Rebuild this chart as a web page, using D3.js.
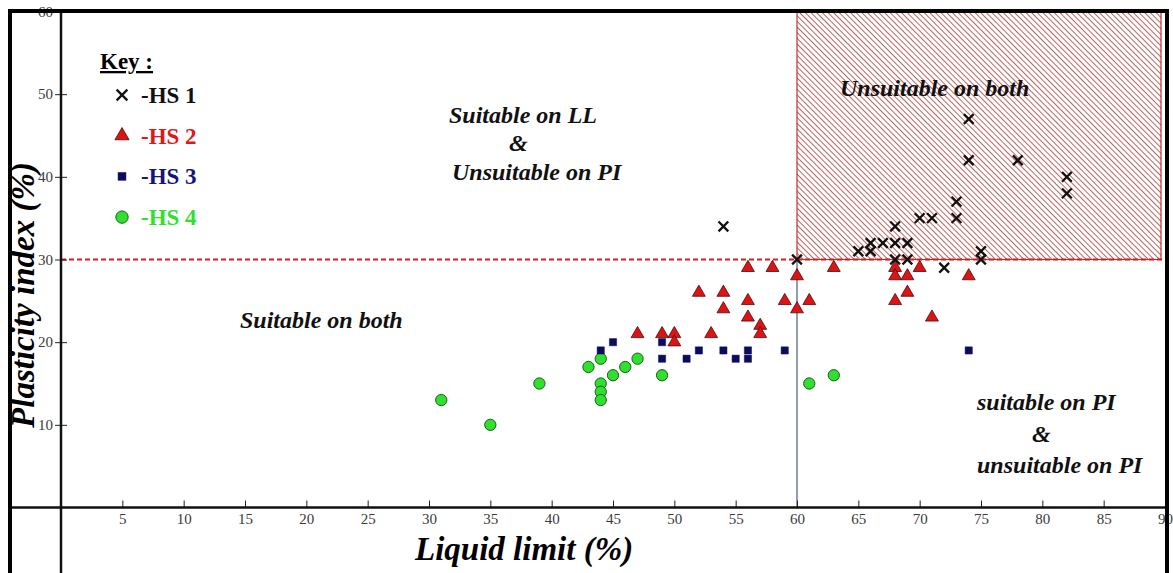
<!DOCTYPE html>
<html>
<head>
<meta charset="utf-8">
<script src="https://cdn.jsdelivr.net/npm/d3@7"></script>
<style>
  body { margin: 0; background: #fff; }
  svg { display: block; }
  .tick text { font-family: "Liberation Serif", serif; font-size: 15px; fill: #3a3a3a; }
  .nota { font-family: "Liberation Serif", serif; font-weight: bold; font-style: italic; font-size: 24px; fill: #111; }
</style>
</head>
<body>
<div id="graf"></div>
<script>
// Datos: [Liquid limit, Plasticity index] por grupo
const hs1 = [[54,34],[60,30],[65,31],[66,32],[66,31],[67,32],[68,34],[68,32],[68,30],[69,32],[69,30],
             [70,35],[71,35],[72,29],[73,37],[73,35],[74,47],[74,42],[75,31],[75,30],[78,42],[82,40],[82,38]]
const hs2 = [[47,21],[49,21],[50,21],[50,20],[52,26],[53,21],[54,26],[54,24],[56,29],[56,25],[56,23],
             [57,22],[57,21],[58,29],[59,25],[60,28],[60,24],[61,25],[63,29],[68,29],[68,28],[68,25],
             [69,28],[69,26],[70,29],[71,23],[74,28]]
const hs3 = [[44,19],[45,20],[49,20],[49,18],[51,18],[52,19],[54,19],[55,18],[56,19],[56,18],[59,19],[74,19]]
const hs4 = [[31,13],[35,10],[39,15],[43,17],[44,18],[44,15],[44,14],[44,13],[45,16],[46,17],[47,18],
             [49,16],[61,15],[63,16]]

const ticksX = [5,10,15,20,25,30,35,40,45,50,55,60,65,70,75,80,85,90]
const ticksY = [10,20,30,40,50,60]
const limiteLL = 60
const limitePI = 30

// Tamano total
ancho_total = 1173
alto_total = 573

svg = d3.select('#graf').append('svg')
        .attr('width', ancho_total)
        .attr('height', alto_total)

// Escalas
x = d3.scaleLinear().domain([0, 90]).range([61, 1165])
y = d3.scaleLinear().domain([0, 60]).range([507.5, 11.5])

// Patron rayado para la zona "Unsuitable on both"
defs = svg.append('defs')
patron = defs.append('pattern')
             .attr('id', 'rayas')
             .attr('patternUnits', 'userSpaceOnUse')
             .attr('width', 4).attr('height', 4)
             .attr('patternTransform', 'rotate(-45)')
patron.append('rect').attr('width', 4).attr('height', 4).attr('fill', '#fff')
patron.append('line')
      .attr('x1', 0).attr('y1', 0).attr('x2', 0).attr('y2', 4)
      .attr('stroke', '#b04848').attr('stroke-width', 1.7)

svg.append('rect')
   .attr('x', x(limiteLL))
   .attr('y', y(60))
   .attr('width', x(90) - x(limiteLL) - 4)
   .attr('height', y(limitePI) - y(60))
   .attr('fill', 'url(#rayas)')
   .attr('stroke', '#c0302a')
   .attr('stroke-width', 1.2)

// Linea vertical LL = 60
svg.append('line')
   .attr('x1', x(limiteLL)).attr('x2', x(limiteLL))
   .attr('y1', y(limitePI)).attr('y2', y(0))
   .attr('stroke', '#6f7b99').attr('stroke-width', 1.5)

// Linea discontinua PI = 30
svg.append('line')
   .attr('x1', x(0)).attr('x2', x(90))
   .attr('y1', y(limitePI)).attr('y2', y(limitePI))
   .attr('stroke', '#d41e1e').attr('stroke-width', 2)
   .attr('stroke-dasharray', '5,3')

// Ejes
xAxisGroup = svg.append('g')
                .attr('transform', `translate(0, ${ y(0) })`)
                .call(d3.axisBottom(x).tickValues(ticksX).tickSize(-7).tickPadding(6))
xAxisGroup.select('.domain').remove()
xAxisGroup.selectAll('line').attr('stroke', '#222')

yAxisGroup = svg.append('g')
                .attr('transform', `translate(${ x(0) }, 0)`)
                .call(d3.axisLeft(y).tickValues(ticksY).tickSize(6).tickPadding(2))
yAxisGroup.select('.domain').remove()
yAxisGroup.selectAll('line').attr('x1', 6).attr('stroke', '#222')

// Lineas de ejes que se cruzan
svg.append('line')
   .attr('x1', 10).attr('x2', 1168)
   .attr('y1', y(0)).attr('y2', y(0))
   .attr('stroke', '#111').attr('stroke-width', 2.5)
svg.append('line')
   .attr('x1', x(0)).attr('x2', x(0))
   .attr('y1', 11).attr('y2', alto_total)
   .attr('stroke', '#111').attr('stroke-width', 2.5)

// Marco exterior
svg.append('path')
   .attr('d', `M10,${alto_total} V11 H1167 V${alto_total}`)
   .attr('fill', 'none')
   .attr('stroke', '#000')
   .attr('stroke-width', 4)

// Estilos de series
series = [
  { nombre: '-HS 1', datos: hs1, tipo: d3.symbolTimes, tam: 64, fill: 'none', stroke: '#111', sw: 2.3, texto: '#111' },
  { nombre: '-HS 2', datos: hs2, tipo: d3.symbolTriangle, tam: 72, fill: '#dd1414', stroke: '#4a0a0a', sw: 0.8, texto: '#e01818' },
  { nombre: '-HS 3', datos: hs3, tipo: d3.symbolSquare, tam: 52, fill: '#0c0c5c', stroke: '#0c0c5c', sw: 0.5, texto: '#14147a' },
  { nombre: '-HS 4', datos: hs4, tipo: d3.symbolCircle, tam: 100, fill: '#2fe02f', stroke: '#1a5c1a', sw: 1, texto: '#2fe02f' }
]

// Puntos (orden inverso para que las cruces queden encima)
series.slice().reverse().forEach(s => {
  svg.append('g').selectAll('path')
     .data(s.datos)
     .enter()
     .append('path')
     .attr('transform', d => `translate(${ x(d[0]) }, ${ y(d[1]) })`)
     .attr('d', d3.symbol().type(s.tipo).size(s.tam))
     .attr('fill', s.fill)
     .attr('stroke', s.stroke)
     .attr('stroke-width', s.sw)
})

// Leyenda
leyenda = svg.append('g')
leyenda.append('text')
       .attr('x', 100).attr('y', 69)
       .style('font-family', '"Liberation Serif", serif')
       .style('font-weight', 'bold')
       .style('font-size', '23px')
       .style('text-decoration', 'underline')
       .text('Key :')
series.forEach((s, i) => {
  cy = 95 + i * 40.7
  leyenda.append('path')
         .attr('transform', `translate(122, ${ cy })`)
         .attr('d', d3.symbol().type(s.tipo).size(s.tam * 1.2))
         .attr('fill', s.fill)
         .attr('stroke', s.stroke)
         .attr('stroke-width', s.sw)
  leyenda.append('text')
         .attr('x', 141).attr('y', cy + 8)
         .style('font-family', '"Liberation Serif", serif')
         .style('font-weight', 'bold')
         .style('font-size', '23px')
         .style('fill', s.texto)
         .text(s.nombre)
})

// Notas de zonas
notas = [
  { t: 'Suitable on LL', x: 449, y: 123 },
  { t: '&', x: 509, y: 151 },
  { t: 'Unsuitable on PI', x: 452, y: 180 },
  { t: 'Unsuitable on both', x: 840, y: 96 },
  { t: 'Suitable on both', x: 240, y: 328 },
  { t: 'suitable on PI', x: 977, y: 410 },
  { t: '&', x: 1032, y: 442 },
  { t: 'unsuitable on PI', x: 977, y: 473 }
]
svg.selectAll('text.nota')
   .data(notas)
   .enter()
   .append('text')
   .attr('class', 'nota')
   .attr('x', d => d.x)
   .attr('y', d => d.y)
   .text(d => d.t)

// Titulos de ejes
svg.append('text')
   .attr('x', 415).attr('y', 560)
   .style('font-family', '"Liberation Serif", serif')
   .style('font-weight', 'bold')
   .style('font-style', 'italic')
   .style('font-size', '33px')
   .text('Liquid limit (%)')

svg.append('text')
   .attr('transform', 'translate(34, 295) rotate(-90)')
   .attr('text-anchor', 'middle')
   .style('font-family', '"Liberation Serif", serif')
   .style('font-weight', 'bold')
   .style('font-style', 'italic')
   .style('font-size', '33px')
   .text('Plasticity index (%)')
</script>
</body>
</html>
